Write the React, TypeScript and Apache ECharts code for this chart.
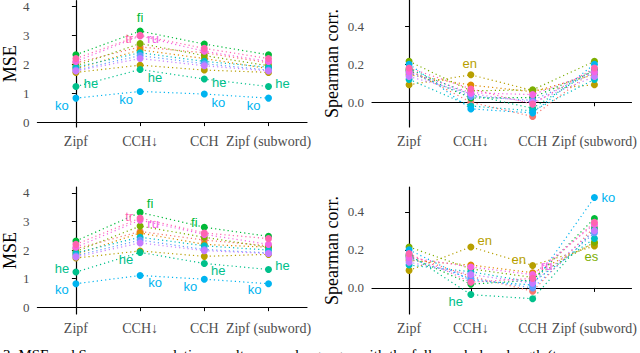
import React, { useEffect, useRef } from "react";
import * as echarts from "echarts";

const categories = ["Zipf", "CCH↓", "CCH", "Zipf (subword)"];
const languages = ["ar", "de", "en", "es", "fi", "he", "ja", "ko", "nl", "pt", "ru", "tr"];
const colors = ["#F8766D", "#DE8C00", "#B79F00", "#7CAE00", "#00BA38", "#00C08B", "#00BFC4", "#00B4F0", "#619CFF", "#C77CFF", "#F564E3", "#FF64B0"];

// top-left: MSE (full vocabulary)
const mseTop = [
  [2.05, 2.6, 2.4, 2.05],
  [1.85, 2.5, 2.2, 1.85],
  [1.72, 1.97, 1.8, 1.72],
  [1.95, 2.72, 2.3, 1.95],
  [2.33, 3.15, 2.7, 2.33],
  [1.23, 1.82, 1.49, 1.23],
  [1.9, 2.4, 2.1, 1.9],
  [0.83, 1.06, 0.97, 0.83],
  [1.8, 2.3, 2.02, 1.8],
  [1.77, 2.2, 1.95, 1.77],
  [2.1, 2.98, 2.45, 2.1],
  [2.2, 3.0, 2.55, 2.2],
];

// top-right: Spearman corr.
const spearTop = [
  [0.17, 0.0, -0.075, 0.17],
  [0.145, 0.09, 0.055, 0.145],
  [0.092, 0.144, 0.062, 0.092],
  [0.215, 0.06, 0.065, 0.215],
  [0.165, 0.022, 0.025, 0.165],
  [0.175, 0.04, -0.032, 0.175],
  [0.12, -0.02, -0.045, 0.12],
  [0.2, -0.035, -0.056, 0.2],
  [0.155, 0.03, 0.01, 0.155],
  [0.135, 0.045, 0.0, 0.135],
  [0.16, 0.05, 0.04, 0.16],
  [0.18, 0.07, -0.01, 0.18],
];

// bottom-left: MSE
const mseBottom = [
  [2.05, 2.65, 2.35, 2.15],
  [1.85, 2.6, 2.2, 2.1],
  [1.72, 1.97, 1.78, 1.85],
  [1.95, 2.84, 2.45, 2.1],
  [2.32, 3.32, 2.8, 2.48],
  [1.23, 1.92, 1.53, 1.32],
  [1.9, 2.45, 2.15, 2.0],
  [0.82, 1.11, 0.98, 0.82],
  [1.8, 2.35, 2.02, 1.9],
  [1.76, 2.25, 1.98, 1.88],
  [2.1, 3.05, 2.55, 2.2],
  [2.2, 3.12, 2.6, 2.4],
];

// bottom-right: Spearman corr.
const spearBottom = [
  [0.17, 0.06, -0.017, 0.32],
  [0.145, 0.12, 0.08, 0.235],
  [0.092, 0.215, 0.118, 0.22],
  [0.215, 0.1, 0.055, 0.24],
  [0.165, 0.02, 0.04, 0.365],
  [0.175, -0.035, -0.057, 0.31],
  [0.12, 0.085, 0.03, 0.26],
  [0.2, 0.04, 0.015, 0.475],
  [0.155, 0.05, 0.0, 0.29],
  [0.135, 0.07, 0.025, 0.3],
  [0.16, 0.11, 0.07, 0.335],
  [0.18, 0.03, 0.05, 0.345],
];

// point labels: panel, language, category index, label offset
const pointLabels = [
  { panel: 0, lang: "fi", idx: 1, dx: 0, dy: -14 },
  { panel: 0, lang: "tr", idx: 1, dx: -11, dy: 3 },
  { panel: 0, lang: "ru", idx: 1, dx: 13, dy: 3 },
  { panel: 0, lang: "he", idx: 0, dx: 15, dy: -3 },
  { panel: 0, lang: "he", idx: 1, dx: 15, dy: 8 },
  { panel: 0, lang: "he", idx: 2, dx: 15, dy: 3 },
  { panel: 0, lang: "he", idx: 3, dx: 14, dy: -3 },
  { panel: 0, lang: "ko", idx: 0, dx: -14, dy: 7 },
  { panel: 0, lang: "ko", idx: 1, dx: -14, dy: 8 },
  { panel: 0, lang: "ko", idx: 2, dx: 14, dy: 8 },
  { panel: 0, lang: "ko", idx: 3, dx: -15, dy: 7 },
  { panel: 1, lang: "en", idx: 1, dx: -1, dy: -11 },
  { panel: 2, lang: "fi", idx: 1, dx: 10, dy: -9 },
  { panel: 2, lang: "tr", idx: 1, dx: -11, dy: -2 },
  { panel: 2, lang: "ru", idx: 1, dx: 13, dy: 3 },
  { panel: 2, lang: "fi", idx: 2, dx: -10, dy: -5 },
  { panel: 2, lang: "he", idx: 0, dx: -14, dy: -4 },
  { panel: 2, lang: "he", idx: 1, dx: -14, dy: 7 },
  { panel: 2, lang: "he", idx: 2, dx: 14, dy: 7 },
  { panel: 2, lang: "he", idx: 3, dx: 14, dy: -4 },
  { panel: 2, lang: "ko", idx: 0, dx: -14, dy: 6 },
  { panel: 2, lang: "ko", idx: 1, dx: 15, dy: 7 },
  { panel: 2, lang: "ko", idx: 2, dx: -14, dy: 7 },
  { panel: 2, lang: "ko", idx: 3, dx: -14, dy: 6 },
  { panel: 3, lang: "en", idx: 1, dx: 14, dy: -6 },
  { panel: 3, lang: "en", idx: 2, dx: -14, dy: -6 },
  { panel: 3, lang: "ru", idx: 2, dx: 14, dy: -9 },
  { panel: 3, lang: "he", idx: 1, dx: -15, dy: 7 },
  { panel: 3, lang: "ko", idx: 3, dx: 14, dy: 0 },
  { panel: 3, lang: "es", idx: 3, dx: -3, dy: 14 },
];

const panelData = [mseTop, spearTop, mseBottom, spearBottom];
const panelNames = ["MSE", "Spearman corr.", "MSE", "Spearman corr."];
const mseTicks = [0, 1, 2, 3, 4];
const spearTicks = [0, 0.2, 0.4];
const caption = "3: MSE and Spearman correlation results across languages with the full vocabulary length (t";

const SERIF = '"Liberation Serif", "Times New Roman", serif';
const SANS = '"Liberation Sans", Arial, sans-serif';

export default function App() {
  const ref = useRef<HTMLDivElement>(null);
  useEffect(() => {
    if (!ref.current) return;
    const chart = echarts.init(ref.current, null, { renderer: "svg" });

    const grids = [
      { left: 36, top: 0, width: 271, height: 127 },
      { left: 372, top: 0, width: 260, height: 127 },
      { left: 36, top: 187, width: 271, height: 127 },
      { left: 372, top: 187, width: 260, height: 127 },
    ];
    const yRanges = [
      [-0.17, 4.2],
      [-0.13, 0.537],
      [-0.24, 4.21],
      [-0.137, 0.53],
    ];

    const xAxes = grids.map((_, p) => ({
      type: "value",
      gridIndex: p,
      min: -0.6,
      max: 3.6,
      axisLine: { show: true, lineStyle: { color: "#000", width: 1.2 } },
      axisTick: { show: true, customValues: [0, 1, 2, 3], length: 4, lineStyle: { color: "#000" } },
      axisLabel: {
        customValues: [0, 1, 2, 3],
        formatter: (v: number) => categories[Math.round(v)],
        fontFamily: SERIF,
        fontSize: 14,
        color: "#4D4D4D",
        margin: 7,
      },
      splitLine: { show: false },
    }));

    const yAxes = grids.map((_, p) => {
      const isMse = p % 2 === 0;
      return {
        type: "value",
        gridIndex: p,
        min: yRanges[p][0],
        max: yRanges[p][1],
        name: panelNames[p],
        nameLocation: "middle",
        nameGap: isMse ? 16 : 31,
        nameTextStyle: { fontFamily: SERIF, fontSize: 18, color: "#000" },
        axisLine: { show: true, lineStyle: { color: "#000", width: 1.2 } },
        axisTick: { show: true, customValues: isMse ? mseTicks : spearTicks, length: 4, lineStyle: { color: "#000" } },
        axisLabel: {
          customValues: isMse ? mseTicks : spearTicks,
          formatter: (v: number) => (isMse ? String(Math.round(v)) : v.toFixed(1)),
          fontFamily: SERIF,
          fontSize: 13,
          color: "#4D4D4D",
          margin: 8,
        },
        splitLine: { show: false },
      };
    });

    const series: any[] = [];
    panelData.forEach((vals, p) => {
      languages.forEach((lang, i) => {
        const color = colors[i];
        series.push({
          type: "line",
          name: lang + p,
          xAxisIndex: p,
          yAxisIndex: p,
          symbol: "circle",
          symbolSize: 7,
          showAllSymbol: true,
          lineStyle: { color, width: 1.2, type: [1.2, 3] },
          itemStyle: { color },
          emphasis: { disabled: true },
          data: vals[i].map((v, j) => {
            const lab = pointLabels.find((l) => l.panel === p && l.lang === lang && l.idx === j);
            if (!lab) return [j, v];
            return {
              value: [j, v],
              label: {
                show: true,
                formatter: lang,
                position: "inside",
                offset: [lab.dx, lab.dy],
                color,
                fontFamily: SANS,
                fontSize: 13,
              },
            };
          }),
        });
      });
    });

    chart.setOption({
      animation: false,
      grid: grids,
      xAxis: xAxes,
      yAxis: yAxes,
      series,
      graphic: [
        {
          type: "text",
          left: 3,
          top: 347,
          style: { text: caption, font: `15px ${SERIF}`, fill: "#000" },
        },
      ],
    });
    return () => chart.dispose();
  }, []);
  return <div ref={ref} style={{ position: "absolute", left: 0, top: 0, width: 640, height: 353, background: "#fff" }} />;
}
